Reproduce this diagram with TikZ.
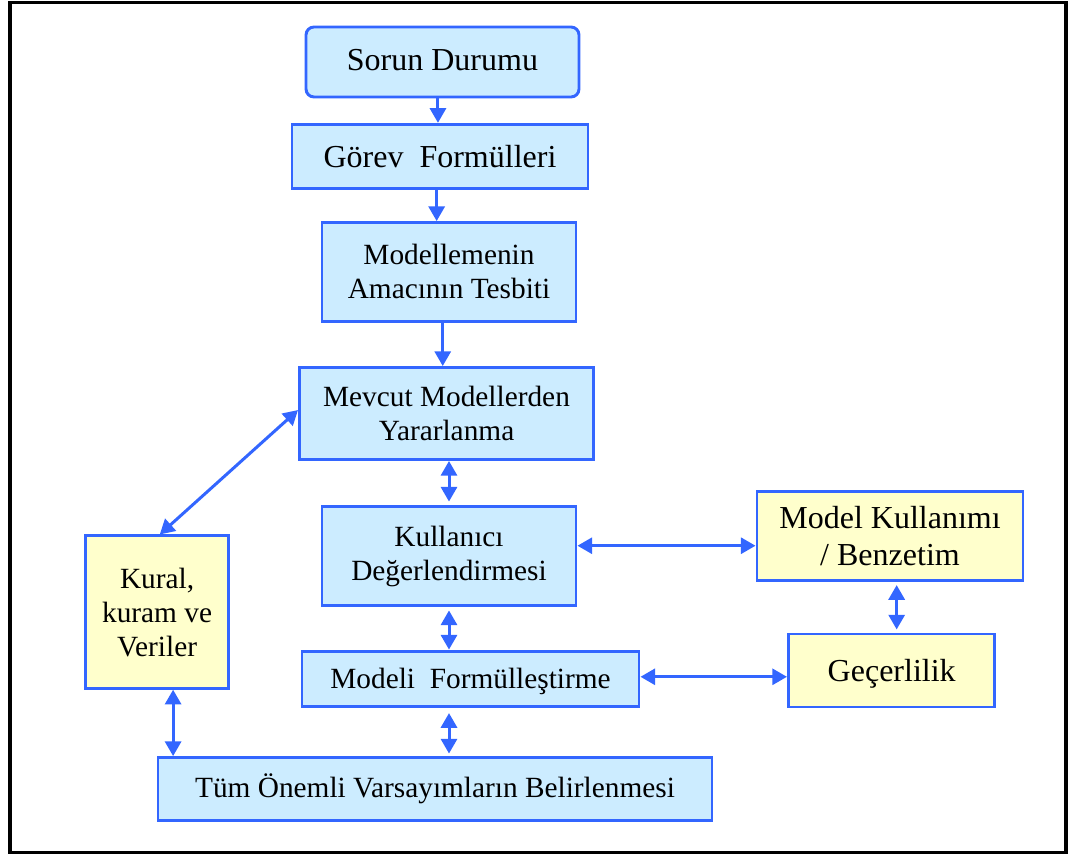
\documentclass[tikz,border=0pt]{standalone}
\usepackage{fontspec}
\setmainfont{Liberation Serif}
\usetikzlibrary{arrows.meta}
\definecolor{edgeblue}{HTML}{3366FF}
\definecolor{boxblue}{HTML}{CCECFF}
\definecolor{boxyellow}{HTML}{FFFFCC}

\tikzset{
  base/.style={draw=edgeblue, line width=2.2pt, align=center, inner sep=0pt, text=black},
  bluebox/.style={base, fill=boxblue},
  yellowbox/.style={base, fill=boxyellow},
  sz/.style 2 args={minimum width=#1*0.75pt, minimum height=#2*0.75pt},
  smalltext/.style={font=\fontsize{22}{25.5}\selectfont},
  largetext/.style={font=\fontsize{24}{27.5}\selectfont},
  tipshape/.tip={Triangle[length=11pt,width=12pt]},
  link/.style={draw=edgeblue, line width=2.25pt, -tipshape},
  twoway/.style={draw=edgeblue, line width=2.25pt, tipshape-tipshape},
}

\begin{document}
\begin{tikzpicture}[x=0.75pt,y=-0.75pt]
% page area and outer frame
\useasboundingbox (0,0) rectangle (1068,855);
\draw[line width=2.7pt, black] (10.2,2.6) rectangle (1066.2,852.4);

% process boxes
\node[bluebox, largetext, sz={273}{70}, rounded corners=6pt, text depth=3pt] (sorun) at (442.5,62) {Sorun Durumu};
\node[bluebox, largetext, sz={296}{64}] (gorev) at (440,156.3) {Görev~ Formülleri};
\node[bluebox, smalltext, sz={254}{98.5}] (amac) at (449,271.8) {Modellemenin\\Amacının Tesbiti};
\node[bluebox, smalltext, sz={294}{92}] (mevcut) at (446.5,413.5) {Mevcut Modellerden\\Yararlanma};
\node[bluebox, smalltext, sz={254}{99}] (kull) at (449,556) {Kullanıcı\\Değerlendirmesi};
\node[bluebox, smalltext, sz={337}{55.5}, text depth=0pt] (modeli) at (470.5,678.8) {Modeli~ Formülleştirme};
\node[bluebox, smalltext, sz={554}{62.5}] (tum) at (435,788.8) {Tüm Önemli Varsayımların Belirlenmesi};

% side boxes
\node[yellowbox, largetext, sz={266}{89.5}] (modelk) at (890,535.8) {Model Kullanımı\\/ Benzetim};
\node[yellowbox, largetext, sz={206.5}{73}, text depth=0pt] (gecer) at (891.7,670.5) {Geçerlilik};
\node[yellowbox, smalltext, sz={142.3}{152.3}] (kural) at (157.1,612.1) {Kural,\\kuram ve\\Veriler};

% main chain
\draw[link] ([xshift=-3.4pt]sorun.south) -- ([xshift=-3.4pt]sorun.south |- gorev.north);
\draw[link] ([xshift=-2.5pt]gorev.south) -- ([xshift=-2.5pt]gorev.south |- amac.north);
\draw[link] ([xshift=-4.7pt]amac.south) -- ([xshift=-4.7pt]amac.south |- mevcut.north);
\draw[twoway, shorten >=2.6pt] (kull.north |- mevcut.south) -- (kull.north);
\draw[twoway, shorten <=2.6pt] (kull.south) -- (kull.south |- modeli.north);
\draw[twoway, shorten <=3.8pt, shorten >=1.9pt] (kull.south |- modeli.south) -- (kull.south |- tum.north);

% links to the side boxes
\draw[twoway] ([xshift=2pt]kural.north) -- ([yshift=2.6pt]mevcut.west);
\draw[twoway] ([xshift=12pt]kural.south) -- ([xshift=12pt]kural.south |- tum.north);
\draw[twoway] ([yshift=7.7pt]kull.east) -- ([yshift=7.7pt]kull.east -| modelk.west);
\draw[twoway, shorten <=2.3pt, shorten >=2.3pt] ([xshift=5pt]modelk.south) -- ([xshift=5pt]modelk.south |- gecer.north);
\draw[twoway] ([yshift=1.5pt]modeli.east) -- ([yshift=1.5pt]modeli.east -| gecer.west);
\end{tikzpicture}
\end{document}
